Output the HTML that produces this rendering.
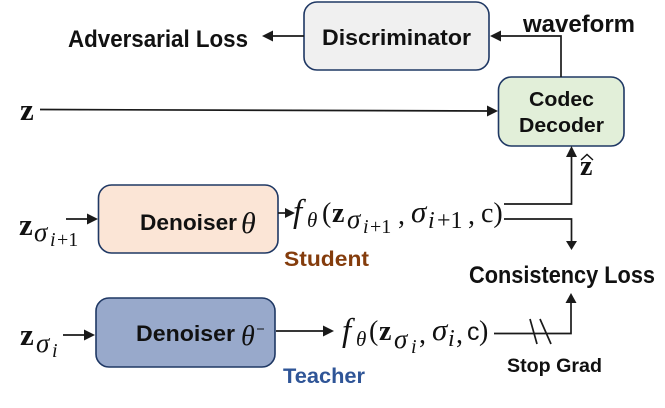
<!DOCTYPE html>
<html>
<head>
<meta charset="utf-8">
<style>
html,body{margin:0;padding:0;background:#fff;width:665px;height:408px;overflow:hidden}
svg{display:block}
.b{font-family:"Liberation Sans",sans-serif;font-weight:bold;fill:#111}
.m{font-family:"Liberation Serif",serif;fill:#111}
.i{font-style:italic}
.z{font-family:"Liberation Serif",serif;font-weight:bold;fill:#111}
.c{font-family:"Liberation Sans",sans-serif;fill:#111}
</style>
</head>
<body>
<svg width="665" height="408" viewBox="0 0 665 408" xmlns="http://www.w3.org/2000/svg">
<g stroke="#1f3864" stroke-width="1.6">
<rect x="304" y="2" width="185" height="68" rx="13" fill="#f0f0f0"/>
<rect x="498.5" y="77" width="125.5" height="69" rx="13" fill="#e2efd9"/>
<rect x="98.5" y="185" width="179.5" height="68" rx="13" fill="#fbe5d6"/>
<rect x="96" y="298" width="179" height="69" rx="13" fill="#98a9cb"/>
</g>
<g fill="none" stroke="#1a1a1a" stroke-width="1.7">
<path d="M304 36H272"/>
<path d="M561 77V36H500"/>
<path d="M40 109.5L488 111"/>
<path d="M504 204H571.5V156"/>
<path d="M504 219H571.5V241"/>
<path d="M494 333.5H571V303"/>
<path d="M530 319L537 344M540 319L551 344"/>
<path d="M66 219H88"/>
<path d="M63 335H85"/>
<path d="M278 213H286"/>
<path d="M276 331H324"/>
</g>
<g fill="#1a1a1a">
<path d="M262 36L273 30.5V41.5Z"/>
<path d="M490 36L501 30.5V41.5Z"/>
<path d="M498 111L487 105.5V116.5Z"/>
<path d="M571.5 146L566 157H577Z"/>
<path d="M571.5 250L566 241H577Z"/>
<path d="M571 293L565.5 303H576.5Z"/>
<path d="M98 219L87 213.5V224.5Z"/>
<path d="M95 335L84 329.5V340.5Z"/>
<path d="M295 213L285 208V218Z"/>
<path d="M334 331L323 325.5V336.5Z"/>
</g>
<text class="b" x="68" y="47" font-size="24" textLength="180" lengthAdjust="spacingAndGlyphs">Adversarial Loss</text>
<text class="b" x="322" y="45" font-size="22" textLength="149" lengthAdjust="spacingAndGlyphs">Discriminator</text>
<text class="b" x="523" y="32" font-size="24" textLength="112" lengthAdjust="spacingAndGlyphs">waveform</text>
<text class="b" x="529" y="106" font-size="20" textLength="65" lengthAdjust="spacingAndGlyphs">Codec</text>
<text class="b" x="519" y="132" font-size="20" textLength="85" lengthAdjust="spacingAndGlyphs">Decoder</text>
<text class="b" x="140" y="230" font-size="22" textLength="97" lengthAdjust="spacingAndGlyphs">Denoiser</text>
<text class="b" x="136" y="341" font-size="22" textLength="99" lengthAdjust="spacingAndGlyphs">Denoiser</text>
<text class="b" x="469" y="283" font-size="24" textLength="186" lengthAdjust="spacingAndGlyphs">Consistency Loss</text>
<text class="b" x="507" y="372" font-size="19" textLength="95" lengthAdjust="spacingAndGlyphs">Stop Grad</text>
<text class="b" x="284" y="266" font-size="21" textLength="85" lengthAdjust="spacingAndGlyphs" style="fill:#843c0c">Student</text>
<text class="b" x="283" y="383" font-size="21" textLength="82" lengthAdjust="spacingAndGlyphs" style="fill:#2f5597">Teacher</text>
<text class="z" x="20" y="120" font-size="31">z</text>
<text class="z" x="580" y="175" font-size="28">z</text>
<path d="M581 160L587 154.5L593 160" fill="none" stroke="#111" stroke-width="1.4"/>
<text class="m i" x="241" y="233" font-size="30">θ</text>
<text class="m i" x="241" y="345" font-size="28">θ</text>
<path d="M257 329H264" stroke="#111" stroke-width="1"/>
<text class="z" x="19" y="235" font-size="31">z</text>
<text class="m i" x="34" y="241" font-size="27">σ</text>
<text class="m i" x="50" y="246" font-size="20">i</text>
<text class="m" x="57" y="246" font-size="20">+1</text>
<text class="z" x="20" y="345" font-size="31">z</text>
<text class="m i" x="36" y="352" font-size="27">σ</text>
<text class="m i" x="52" y="357" font-size="20">i</text>
<text class="m i" x="293" y="222" font-size="33">f</text>
<text class="m i" x="307" y="227" font-size="21">θ</text>
<text class="m" x="322" y="222" font-size="28">(</text>
<text class="z" x="332" y="222" font-size="28">z</text>
<text class="m i" x="347" y="228" font-size="27">σ</text>
<text class="m i" x="363" y="233" font-size="20">i</text>
<text class="m" x="370" y="233" font-size="20">+1</text>
<text class="m" x="398" y="224" font-size="28">,</text>
<text class="m i" x="411" y="222" font-size="31">σ</text>
<text class="m i" x="428" y="228" font-size="24">i</text>
<text class="m" x="437" y="228" font-size="24">+1</text>
<text class="m" x="468" y="224" font-size="28">,</text>
<text class="m" x="481" y="222" font-size="28">c)</text>
<text class="m i" x="342" y="341" font-size="33">f</text>
<text class="m i" x="356" y="346" font-size="21">θ</text>
<text class="m" x="369" y="340" font-size="28">(</text>
<text class="z" x="379" y="340" font-size="28">z</text>
<text class="m i" x="394" y="348" font-size="27">σ</text>
<text class="m i" x="411" y="353" font-size="20">i</text>
<text class="m" x="419" y="343" font-size="28">,</text>
<text class="m i" x="432" y="340" font-size="31">σ</text>
<text class="m i" x="448" y="346" font-size="24">i</text>
<text class="m" x="456" y="343" font-size="28">,</text>
<text class="c" x="467" y="340" font-size="25">c</text>
<text class="m" x="479" y="340" font-size="28">)</text>
</svg>
</body>
</html>
